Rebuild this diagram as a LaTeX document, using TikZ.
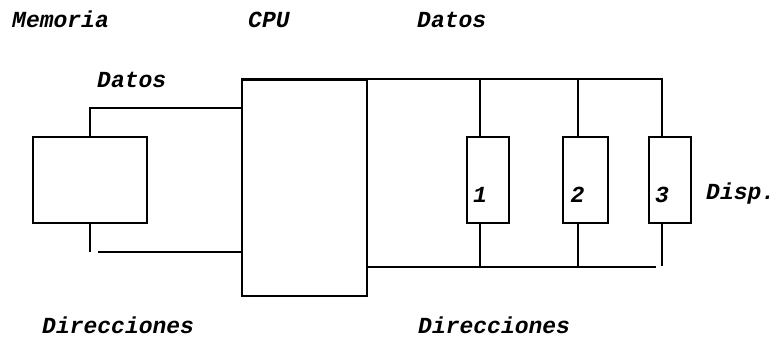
\documentclass[tikz,border=0pt]{standalone}
\usepackage{fontspec}
\newfontfamily\dotfont{Liberation Mono}
\usepackage{tikz}
\usetikzlibrary{positioning}

\begin{document}
\begin{tikzpicture}[
    x=1pt, y=-1pt,
    font=\dotfont\bfseries\itshape\fontsize{23}{25}\selectfont,
    bus/.style={line width=1.9pt},
    unit/.style={draw, line width=1.9pt, minimum height=86pt, inner sep=0pt},
    txt/.style={anchor=base west, inner sep=0pt}
]
\useasboundingbox (0,0) rectangle (779,339);

% Units
\node[unit, minimum width=114pt] (mem) at (90,180) {};
\node[unit, minimum width=125pt, minimum height=216pt] (cpu) at (304.5,188) {};
\node[unit, minimum width=42pt, label={[xshift=-8pt, yshift=-15pt]center:1}] (d1) at (488,180) {};
\node[unit, minimum width=45pt, label={[xshift=-8pt, yshift=-15pt]center:2}] (d2) at (585.5,180) {};
\node[unit, minimum width=42pt, label={[xshift=-8pt, yshift=-15pt]center:3}] (d3) at (670,180) {};

% Taps
\coordinate (t1) at (480,137);
\coordinate (t2) at (578,137);
\coordinate (t3) at (662,137);
\coordinate (b1) at (480,223);
\coordinate (b2) at (578,223);
\coordinate (b3) at (662,223);
\coordinate (md) at (242,108);
\coordinate (ma) at (98,252);
\coordinate (ab) at (656,267);

% Data bus
\draw[bus] (cpu.north west) -| (t3);
\draw[bus] (t1) -- (t1 |- cpu.north);
\draw[bus] (t2) -- (t2 |- cpu.north);
\draw[bus] (mem.north) |- (md);

% Address bus
\draw[bus] (mem.south) -- ++(0,28);
\draw[bus] (ma) -- (ma -| cpu.west);
\draw[bus] (cpu.east |- ab) -- (ab);
\draw[bus] (b1) -- (b1 |- ab);
\draw[bus] (b2) -- (b2 |- ab);
\draw[bus] (b3) -- ++(0,43);

% Labels
\node[txt] (lmem) at (12,28) {Memoria};
\node[txt] (lcpu) at (248,28) {CPU};
\node[txt] (ldat) at (417,28) {Datos};
\node[txt] (ldatm) at (97,88) {Datos};
\node[txt] (ldir) at (42,333) {Direcciones};
\node[txt] (ldir2) at (418,333) {Direcciones};
\node[txt] (ldisp) at (706,200) {Disp.};

\end{tikzpicture}
\end{document}
